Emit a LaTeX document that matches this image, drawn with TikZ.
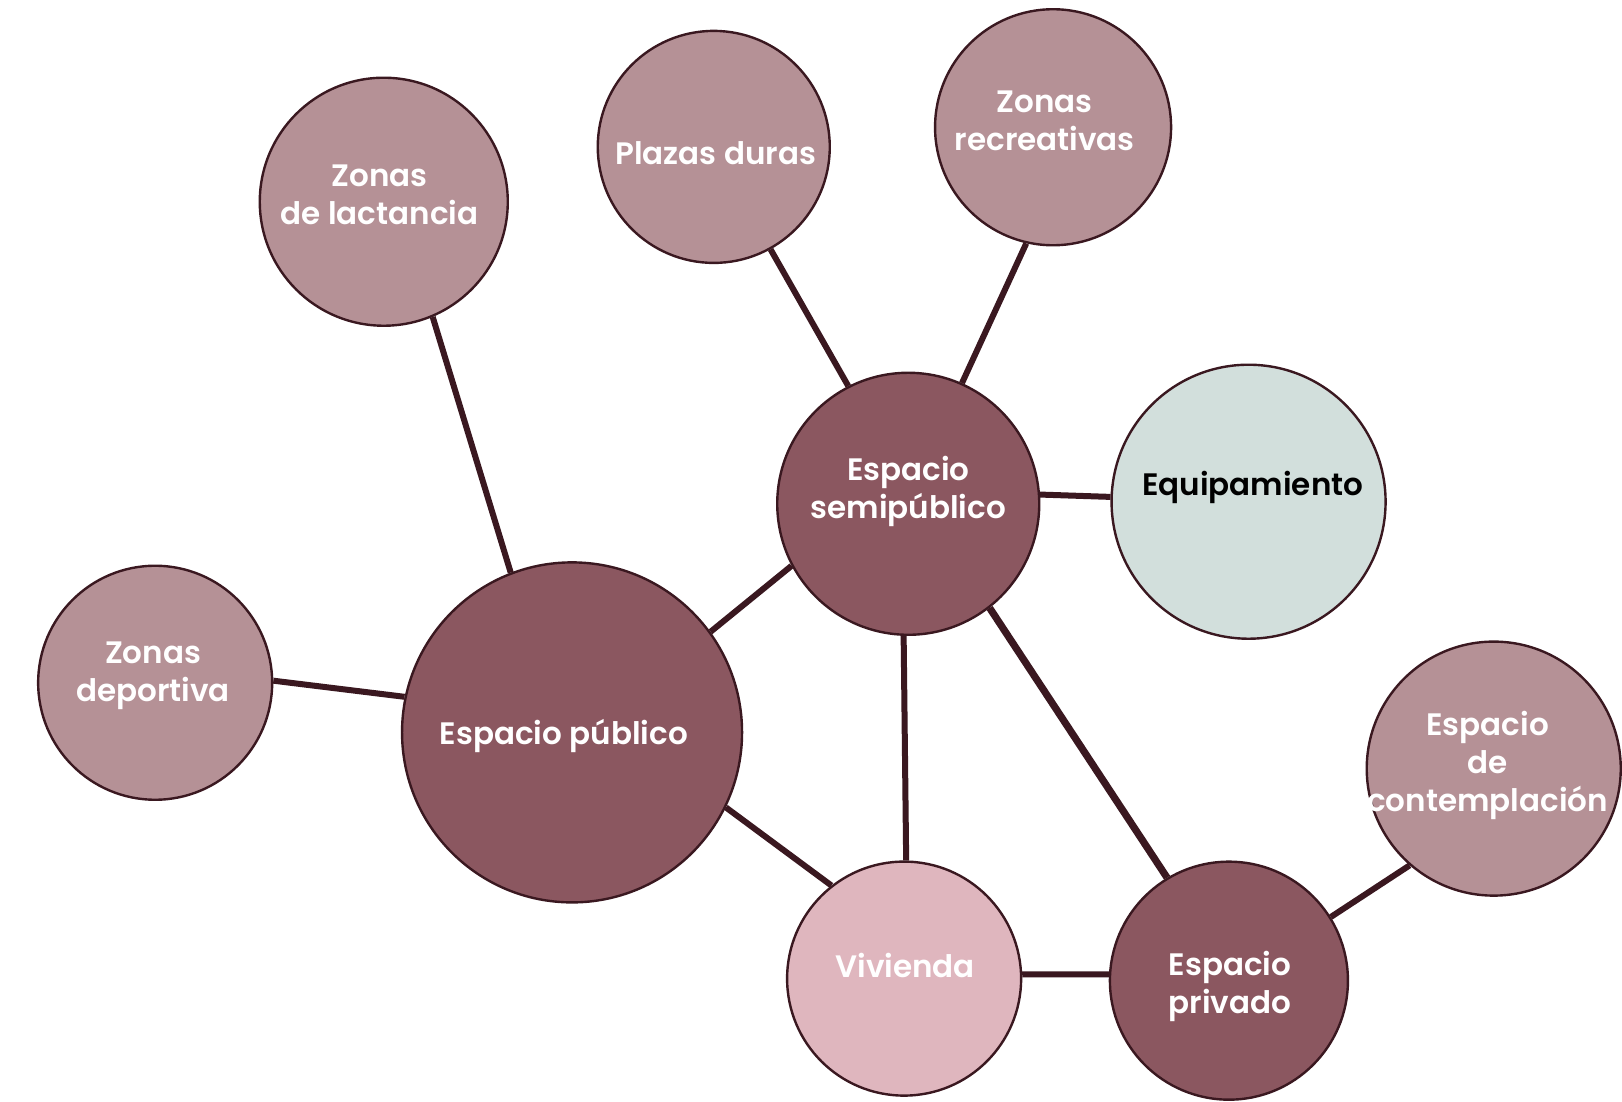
\documentclass[tikz,border=0pt]{standalone}
\usepackage{fontspec}
\setmainfont{Poppins}[BoldFont={Poppins SemiBold}]
\definecolor{darkc}{RGB}{139,87,96}
\definecolor{midc}{RGB}{181,145,150}
\definecolor{lightc}{RGB}{223,182,190}
\definecolor{equipc}{RGB}{210,223,220}
\definecolor{edgec}{RGB}{58,24,32}
\begin{document}
\begin{tikzpicture}[x=0.5172pt,y=-0.5172pt,
  bubble/.style={circle,draw=edgec,line width=1.2pt,inner sep=0pt},
  lbl/.style={align=center,font=\bfseries\fontsize{15.5}{19}\selectfont,text=white,inner sep=0pt},
  link/.style={draw=edgec,line width=3pt}]
\useasboundingbox (0,0) rectangle (1568,1065);
\fill[white] (0,0) rectangle (1568,1065);
% circles
\node[bubble,fill=midc,minimum size=124pt] (lact) at (371,195) {};
\node[bubble,fill=midc,minimum size=116pt] (plaz) at (690,142) {};
\node[bubble,fill=midc,minimum size=118pt] (recr) at (1018,123) {};
\node[bubble,fill=darkc,minimum size=131pt] (semi) at (878,487) {};
\node[bubble,fill=equipc,minimum size=137pt] (equi) at (1207,485) {};
\node[bubble,fill=midc,minimum size=117pt] (depo) at (150,660) {};
\node[bubble,fill=darkc,minimum size=170pt] (publ) at (553,708) {};
\node[bubble,fill=midc,minimum size=127pt] (cont) at (1444,743) {};
\node[bubble,fill=lightc,minimum size=117pt] (vivi) at (874,946) {};
\node[bubble,fill=darkc,minimum size=119pt] (priv) at (1188,948) {};
% links
\draw[link] (lact.-67.8) -- (publ.111.5);
\draw[link] (plaz.-61.9) -- (semi.117.8);
\draw[link] (recr.-103.9) -- (semi.66.3);
\draw[link] (semi.4.5) -- (equi.178.3);
\draw[link] (semi.-152) -- (publ.36.8);
\draw[link] (depo.1.5) -- (publ.168.5);
\draw[link] (publ.-26.1) -- (vivi.128.6);
\draw[link] (semi.-92.3) -- (vivi.89);
\draw[link,line width=3.6pt] (semi.-52.2) -- (priv.121.1);
\draw[link] (vivi.2.5) -- (priv.177.5);
\draw[link] (priv.32.5) -- (cont.-131.5);
% labels
\node[lbl] (lact-t) at (367,188) {Zonas\\de lactancia};
\node[lbl] (plaz-t) at (692,148) {Plazas duras};
\node[lbl] (recr-t) at (1010,117) {Zonas\\recreativas};
\node[lbl] (semi-t) at (878,475) {Espacio\\semipúblico};
\node[lbl,text=black] (equi-t) at (1211,471) {Equipamiento};
\node[lbl] (depo-t) at (148,653) {Zonas\\deportiva};
\node[lbl] (publ-t) at (545,711) {Espacio público};
\node[lbl] (cont-t) at (1438,740) {Espacio\\de\\contemplación};
\node[lbl] (vivi-t) at (875,933) {Vivienda};
\node[lbl] (priv-t) at (1189,954) {Espacio\\privado};
\end{tikzpicture}
\end{document}
